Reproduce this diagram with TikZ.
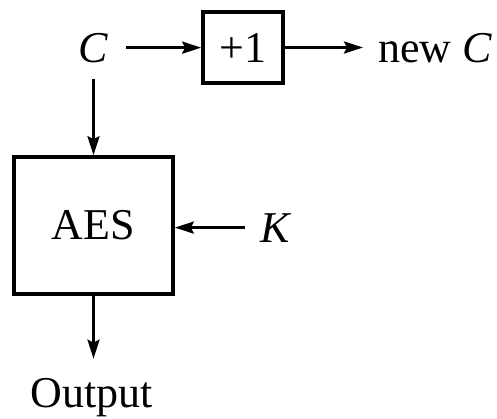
\documentclass[tikz,border=0pt]{standalone}
\usepackage{fontspec}
\setmainfont{Liberation Serif}
\usetikzlibrary{arrows.meta}
\begin{document}
\begin{tikzpicture}[x=1pt,y=-1pt,
  box/.style={draw, line width=3.6pt, inner sep=0pt, font=\fontsize{44}{52}\selectfont},
  lbl/.style={inner sep=0pt, anchor=base, font=\fontsize{44}{52}\selectfont},
  arr/.style={line width=3pt, -{Stealth[length=19pt,width=12pt,inset=3pt]}}]
\useasboundingbox (0,0) rectangle (497,418);
\node[lbl] (C) at (93.5,62) {\textit{C}};
\node[box, minimum width=80pt, minimum height=71pt] (inc) at (243,47.5) {+1};
\node[lbl, anchor=base west] (newC) at (378,62) {new \textit{C}};
\node[box, minimum width=159pt, minimum height=137pt] (aes) at (93.5,225.5) {AES};
\node[lbl, anchor=base west] (K) at (260,242) {\textit{K}};
\node[lbl] (out) at (92,407) {Output};
\draw[arr, shorten <=17pt] (C.east) -- (C.east -| inc.west);
\draw[arr, shorten >=15pt] (inc.east) -- (inc.east -| newC.west);
\draw[arr, shorten <=16pt] (C.south) -- (C.south |- aes.north);
\draw[arr, shorten <=15pt] (K.west) -- (K.west -| aes.east);
\draw[arr, shorten >=19pt] (aes.south) -- (aes.south |- out.north);
\end{tikzpicture}
\end{document}
